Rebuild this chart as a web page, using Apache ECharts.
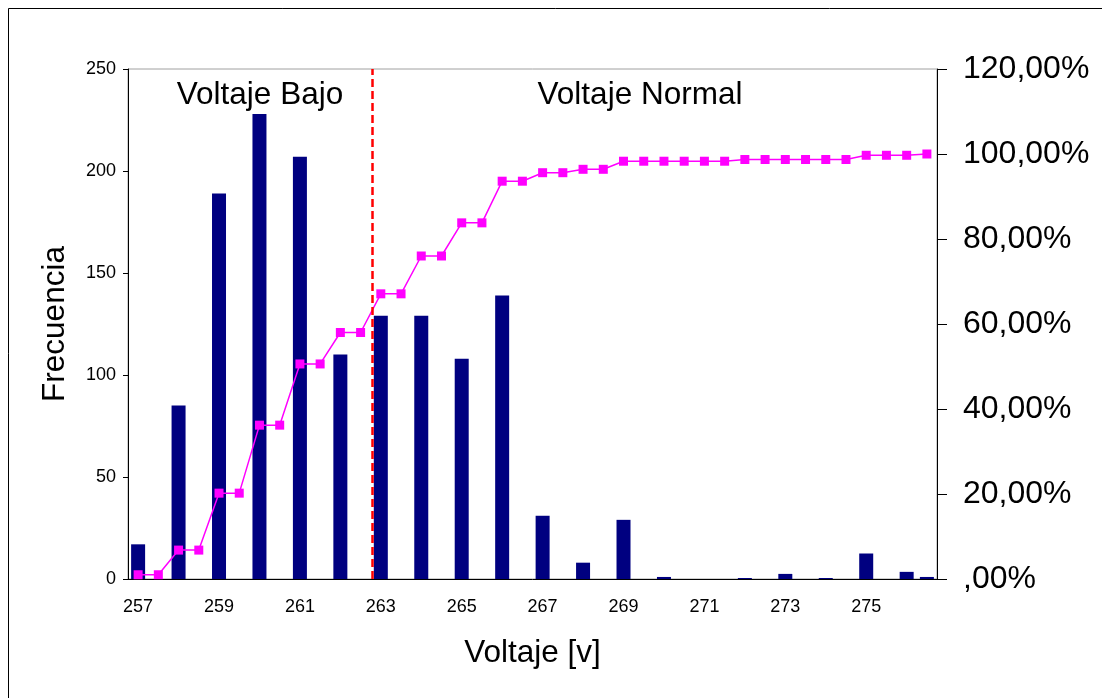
<!DOCTYPE html>
<html><head><meta charset="utf-8">
<script src="https://cdn.jsdelivr.net/npm/echarts@6/dist/echarts.min.js"></script>
<style>html,body{margin:0;padding:0;background:#fff}#c{width:1102px;height:698px}</style>
</head><body><div id="c"></div>
<script>
// Half-volt categories (Excel category axis); labels shown every 4th
const categories = ['257','257,5','258','258,5','259','259,5','260','260,5','261','261,5',
  '262','262,5','263','263,5','264','264,5','265','265,5','266','266,5',
  '267','267,5','268','268,5','269','269,5','270','270,5','271','271,5',
  '272','272,5','273','273,5','274','274,5','275','275,5','276','y mayor...'];
// Frequency per bin (bars)
const frecuencia = [17,null,85,null,189,null,228,null,207,null,
  110,null,129,null,129,null,108,null,139,null,
  31,null,8,null,29,null,1,null,0,null,
  0.5,null,2.5,null,0.5,null,12.5,null,3.5,1];
// Cumulative percentage (line)
const acumulado = [1.0,1.0,6.8,6.8,20.2,20.2,36.2,36.2,50.6,50.6,
  58.0,58.0,67.1,67.1,76.0,76.0,83.8,83.8,93.6,93.6,
  95.6,95.6,96.4,96.4,98.3,98.3,98.3,98.3,98.3,98.3,
  98.7,98.7,98.7,98.7,98.7,98.7,99.7,99.7,99.7,100];
const leftTicks = {min:0, max:250, interval:50};
const rightTicks = {min:0, max:120, interval:20};
const limiteVoltaje = 262.8; // boundary Bajo / Normal
const zonas = ['Voltaje Bajo','Voltaje Normal'];

const FONT = "'Liberation Sans', Arial, sans-serif";
const chart = echarts.init(document.getElementById('c'), null, {renderer:'canvas'});
chart.setOption({
  backgroundColor:'#ffffff',
  animation:false,
  grid:{left:128, right:165, top:69, bottom:119, show:true, borderColor:'#a0a0a0', borderWidth:1, backgroundColor:'transparent'},
  xAxis:[{
    type:'category', data:categories, boundaryGap:true,
    axisLine:{lineStyle:{color:'#000', width:1}},
    axisTick:{interval:3, length:4, lineStyle:{color:'#000'}},
    axisLabel:{interval:3, color:'#000', fontSize:18, fontFamily:FONT, margin:19},
    name:'Voltaje [v]', nameLocation:'middle', nameGap:58,
    nameTextStyle:{color:'#000', fontSize:31.5, fontFamily:FONT},
    splitLine:{show:false}
  },{
    type:'value', min:256.75, max:276.75, show:false
  }],
  yAxis:[{
    type:'value', min:leftTicks.min, max:leftTicks.max, interval:leftTicks.interval,
    axisLine:{show:true, lineStyle:{color:'#000'}},
    axisTick:{show:true, length:5, lineStyle:{color:'#000'}},
    axisLabel:{color:'#000', fontSize:18, fontFamily:FONT, margin:12},
    splitLine:{show:false},
    name:'Frecuencia', nameLocation:'middle', nameGap:57, nameRotate:90,
    nameTextStyle:{color:'#000', fontSize:31.5, fontFamily:FONT}
  },{
    type:'value', min:rightTicks.min, max:rightTicks.max, interval:rightTicks.interval,
    position:'right',
    axisLine:{show:true, lineStyle:{color:'#000'}},
    axisTick:{show:true, length:10, lineStyle:{color:'#000'}},
    axisLabel:{color:'#000', fontSize:32, fontFamily:FONT, margin:26,
      formatter:v=> v===0 ? ',00%' : v+',00%'},
    splitLine:{show:false}
  }],
  series:[{
    type:'bar', data:frecuencia, barWidth:14, itemStyle:{color:'#000080'},
    xAxisIndex:0, yAxisIndex:0, z:2
  },{
    type:'line', data:acumulado, xAxisIndex:0, yAxisIndex:1,
    symbol:'rect', symbolSize:9, showSymbol:true,
    lineStyle:{color:'#ff00ff', width:1.5}, itemStyle:{color:'#ff00ff'}, z:3
  },{
    type:'line', data:[], xAxisIndex:1, yAxisIndex:0, silent:true,
    markLine:{symbol:'none', silent:true, label:{show:false},
      lineStyle:{color:'#ff0000', type:[8,4], width:2.5},
      data:[{xAxis:limiteVoltaje}]}
  }],
  graphic:[
    {type:'rect', shape:{x:8.5, y:8.5, width:1300, height:900}, style:{fill:'none', stroke:'#000', lineWidth:1}, silent:true},
    {type:'text', x:260, y:95, style:{text:zonas[0], font:'31.5px '+FONT, fill:'#000', textAlign:'center', textVerticalAlign:'middle'}},
    {type:'text', x:640, y:95, style:{text:zonas[1], font:'31.5px '+FONT, fill:'#000', textAlign:'center', textVerticalAlign:'middle'}}
  ]
});
</script></body></html>
